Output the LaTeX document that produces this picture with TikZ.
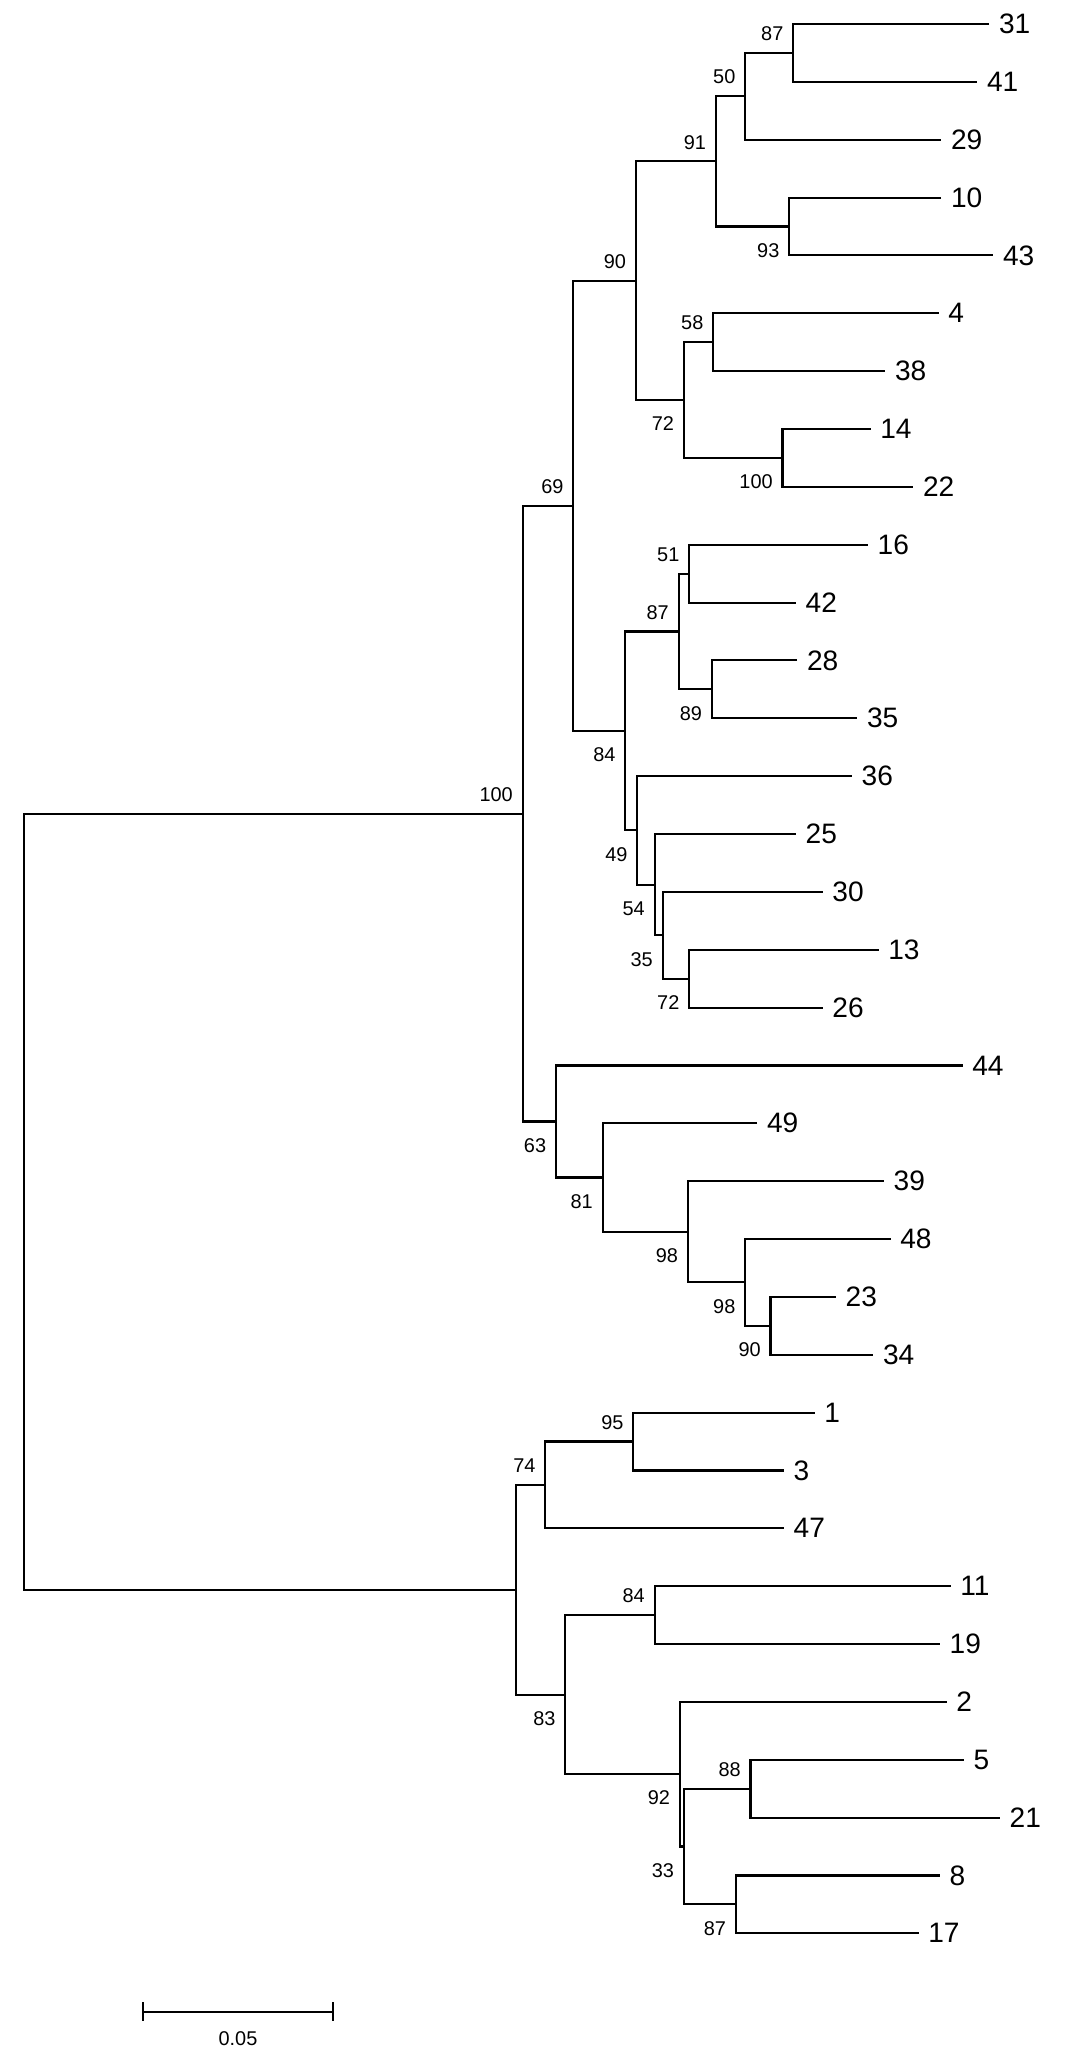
\documentclass[tikz,border=0pt]{standalone}
\usepackage{fontspec}
\setmainfont{Liberation Sans}
\usetikzlibrary{calc}
\tikzset{
  branch/.style={line width=0.9pt},
  tip/.style={anchor=west, inner sep=0pt, xshift=4pt, font=\fontsize{12}{12}\selectfont},
  boot/.style={inner sep=0pt, font=\fontsize{8.5}{9}\selectfont},
  up/.style={anchor=south east, xshift=-4pt, yshift=5pt},
  dn/.style={anchor=north east, xshift=-4pt, yshift=-7pt}
}
% leaf: label, tip x, row
\newcommand\leaf[3]{%
  \coordinate (t#1) at (#2,{18+43.4*#3});
  \node[tip] (l#1) at (t#1) {#1};}
% clade: name, x, upper child, lower child, support, side
\newcommand\clade[6]{%
  \path ($(#3)!.5!(#4)$) coordinate (m#1);
  \coordinate (#1) at ($(m#1 -| O)+(#2,0)$);
  \draw[branch] (#3) -- (#3 -| #1) -- (#4 -| #1) -- (#4);
  \node[boot,#6] (b#1) at (#1) {#5};}
\begin{document}
\begin{tikzpicture}[x=0.02cm, y=-0.02cm]
  \useasboundingbox (0,0) rectangle (800,1546);
  \coordinate (O) at (0,0);
  % leaves
  \leaf{31}{742}{0}  \leaf{41}{733}{1}  \leaf{29}{706}{2}
  \leaf{10}{706}{3}  \leaf{43}{745}{4}  \leaf{4}{704}{5}
  \leaf{38}{664}{6}  \leaf{14}{653}{7}  \leaf{22}{685}{8}
  \leaf{16}{651}{9}  \leaf{42}{597}{10} \leaf{28}{598}{11}
  \leaf{35}{643}{12} \leaf{36}{639}{13} \leaf{25}{597}{14}
  \leaf{30}{617}{15} \leaf{13}{659}{16} \leaf{26}{617}{17}
  \leaf{44}{722}{18} \leaf{49}{568}{19} \leaf{39}{663}{20}
  \leaf{48}{668}{21} \leaf{23}{627}{22} \leaf{34}{655}{23}
  \leaf{1}{611}{24}  \leaf{3}{588}{25}  \leaf{47}{588}{26}
  \leaf{11}{713}{27} \leaf{19}{705}{28} \leaf{2}{710}{29}
  \leaf{5}{723}{30}  \leaf{21}{750}{31} \leaf{8}{705}{32}
  \leaf{17}{689}{33}
  % upper group
  \clade{na}{595}{t31}{t41}{87}{up}
  \clade{nb}{559}{na}{t29}{50}{up}
  \clade{nc}{592}{t10}{t43}{93}{dn}
  \clade{nd}{537}{nb}{nc}{91}{up}
  \clade{ne}{535}{t4}{t38}{58}{up}
  \clade{nf}{587}{t14}{t22}{100}{dn}
  \clade{ng}{513}{ne}{nf}{72}{dn}
  \clade{nh}{477}{nd}{ng}{90}{up}
  \clade{ni}{517}{t16}{t42}{51}{up}
  \clade{nj}{534}{t28}{t35}{89}{dn}
  \clade{nk}{509}{ni}{nj}{87}{up}
  \clade{nl}{517}{t13}{t26}{72}{dn}
  \clade{nm}{497}{t30}{nl}{35}{dn}
  \clade{nn}{491}{t25}{nm}{54}{dn}
  \clade{no}{478}{t36}{nn}{49}{dn}
  \clade{np}{469}{nk}{no}{84}{dn}
  \clade{nq}{430}{nh}{np}{69}{up}
  \clade{nr}{578}{t23}{t34}{90}{dn}
  \clade{ns}{559}{t48}{nr}{98}{dn}
  \clade{nt}{516}{t39}{ns}{98}{dn}
  \clade{nu}{452}{t49}{nt}{81}{dn}
  \clade{nv}{417}{t44}{nu}{63}{dn}
  \clade{nw}{392}{nq}{nv}{100}{up}
  % lower group
  \clade{nx}{475}{t1}{t3}{95}{up}
  \clade{ny}{409}{nx}{t47}{74}{up}
  \clade{nz}{491}{t11}{t19}{84}{up}
  \clade{ma}{563}{t5}{t21}{88}{up}
  \clade{mb}{552}{t8}{t17}{87}{dn}
  \clade{mc}{513}{ma}{mb}{33}{dn}
  \clade{md}{510}{t2}{mc}{92}{dn}
  \clade{me}{424}{nz}{md}{83}{dn}
  \clade{mf}{387}{ny}{me}{}{dn}
  \clade{root}{18}{nw}{mf}{}{dn}
  % scale bar
  \coordinate (s1) at (107,1509);
  \coordinate (s2) at (250,1509);
  \draw[branch] ($(s1)+(0,-7)$) -- ($(s1)+(0,7)$)
    (s1) -- (s2) ($(s2)+(0,-7)$) -- ($(s2)+(0,7)$);
  \node[boot] (bar) at ($(s1)!.5!(s2)+(0,20)$) {0.05};
\end{tikzpicture}
\end{document}
